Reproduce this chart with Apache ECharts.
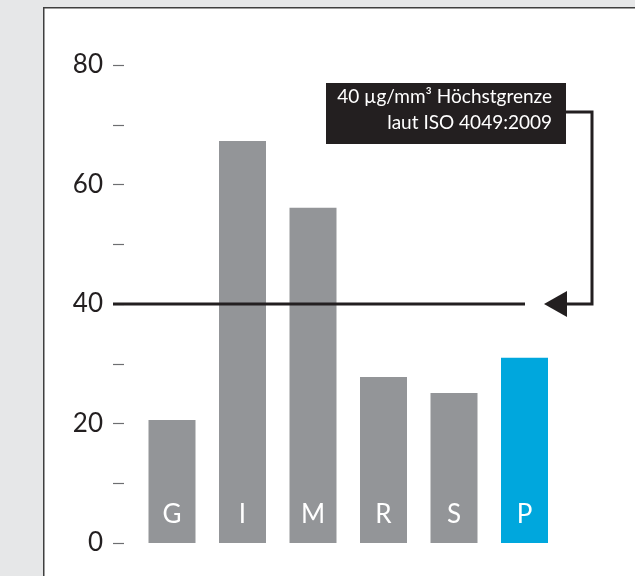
<!DOCTYPE html>
<html>
<head>
<meta charset="utf-8">
<script src="https://cdn.jsdelivr.net/npm/echarts@6/dist/echarts.min.js"></script>
<style>
html,body{margin:0;padding:0;background:#e6e7e8;}
#c{width:635px;height:576px;}
</style>
</head>
<body>
<div id="c"></div>
<script>
var categories = ['G', 'I', 'M', 'R', 'S', 'P'];
var values = [20.6, 67.3, 56.1, 27.8, 25.1, 31.0];
var highlight = 'P';
var limitValue = 40;
var limitText = ['40 µg/mm³ Höchstgrenze', 'laut ISO 4049:2009'];
var yTicks = [0, 20, 40, 60, 80];

var FONT = 'Lato, "Open Sans", sans-serif';
var GRAY = '#939598';
var BLUE = '#00a7dd';
var DARK = '#231f20';

var chart = echarts.init(document.getElementById('c'), null, {renderer: 'canvas'});

var option = {
  backgroundColor: '#e6e7e8',
  animation: false,
  grid: {left: 136.75, right: 75.25, top: 65, bottom: 33, containLabel: false, outerBoundsMode: 'none'},
  xAxis: {
    type: 'category',
    data: categories,
    axisLine: {show: false},
    axisTick: {show: false},
    axisLabel: {show: false},
    splitLine: {show: false}
  },
  yAxis: {
    type: 'value',
    min: 0, max: 80, interval: 10,
    offset: 12.75,
    axisLine: {show: false},
    axisTick: {show: true, length: 11, lineStyle: {color: '#6d6e71', width: 1.2}},
    splitLine: {show: false},
    axisLabel: {
      margin: 21,
      fontFamily: FONT, fontSize: 26, color: DARK,
      formatter: function (v) { return yTicks.indexOf(v) >= 0 ? String(v) : ''; }
    }
  },
  series: [{
    type: 'bar',
    barWidth: 47,
    data: values.map(function (v, i) {
      return {value: v, itemStyle: {color: categories[i] === highlight ? BLUE : GRAY}};
    }),
    label: {
      show: true,
      position: 'insideBottom',
      distance: 15,
      fontFamily: FONT, fontSize: 26, color: '#ffffff',
      formatter: function (p) { return p.name; }
    }
  }]
};
chart.setOption(option);

var y40 = chart.convertToPixel({yAxisIndex: 0}, limitValue);
var boxL = 326, boxR = 566, boxT = 83, boxB = 144;
var connY = 112, connX = 592, arrowTip = 544, arrowBase = 567, lineStart = 113, lineEnd = 525;

chart.setOption({
  graphic: [
    {type: 'rect', z: -10, shape: {x: 43.75, y: 7.75, width: 700, height: 700},
     style: {fill: '#ffffff', stroke: '#3f3f3f', lineWidth: 1.5}},
    {type: 'line', z: 10, shape: {x1: lineStart, y1: y40, x2: lineEnd, y2: y40},
     style: {stroke: DARK, lineWidth: 3}},
    {type: 'polyline', z: 10, shape: {points: [[boxR, connY], [connX, connY], [connX, y40], [arrowBase, y40]]},
     style: {stroke: DARK, lineWidth: 3, fill: null}},
    {type: 'polygon', z: 10, shape: {points: [[arrowTip, y40], [arrowBase, y40 - 13], [arrowBase, y40 + 13]]},
     style: {fill: DARK}},
    {type: 'rect', z: 10, shape: {x: boxL, y: boxT, width: boxR - boxL, height: boxB - boxT},
     style: {fill: DARK}},
    {type: 'text', z: 11, x: 552, y: 97,
     style: {text: limitText[0], fill: '#ffffff', font: '19px ' + FONT, align: 'right', verticalAlign: 'middle'}},
    {type: 'text', z: 11, x: 552, y: 123,
     style: {text: limitText[1], fill: '#ffffff', font: '19px ' + FONT, align: 'right', verticalAlign: 'middle'}}
  ]
});
</script>
</body>
</html>
